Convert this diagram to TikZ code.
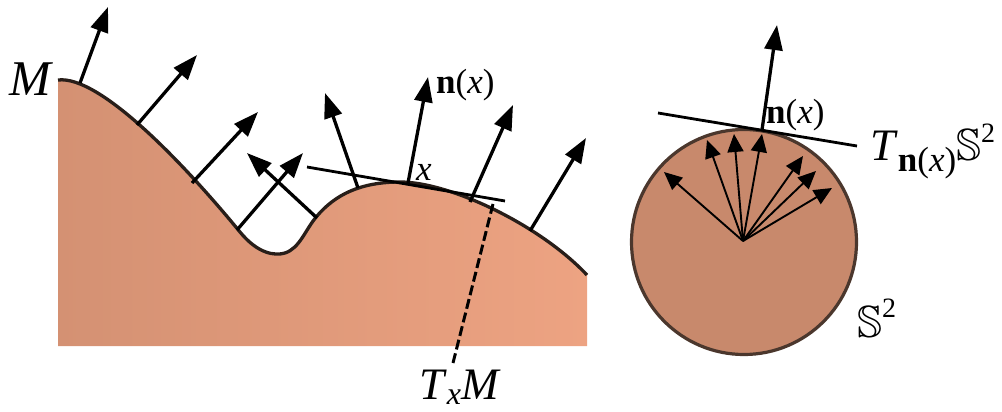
\documentclass[tikz,border=0pt]{standalone}
\usepackage{fontspec}
\setmainfont{Liberation Serif}
\usepackage{amssymb}
\usetikzlibrary{arrows.meta}
\definecolor{landL}{RGB}{212,145,115}
\definecolor{landR}{RGB}{237,163,130}
\definecolor{edgecol}{RGB}{40,30,25}
\definecolor{ball}{RGB}{200,137,108}
\definecolor{ballEdge}{RGB}{75,55,45}
\begin{document}
\begin{tikzpicture}[x=1pt,y=-1pt,
  normalarrow/.style={line width=3.3pt,-{Triangle[length=25pt,width=18pt]}},
  smallarrow/.style={line width=1.9pt,-{Triangle[length=18pt,width=16pt]}},
  lbl/.style={inner sep=0pt},
  big/.style={font=\fontsize{45}{45}\selectfont},
  mid/.style={font=\fontsize{35}{35}\selectfont},
]
\useasboundingbox (0,0) rectangle (1002,412);
% land
\shade[left color=landL,right color=landR]
  (58,80) .. controls (100,75) and (185,165) .. (240,232)
  .. controls (258,254) and (275,256) .. (285,253)
  .. controls (300,248) and (305,230) .. (317,216)
  .. controls (335,195) and (360,182) .. (400,182)
  .. controls (450,182) and (540,225) .. (587,275)
  -- (587,346) -- (58,346) -- cycle;
\draw[edgecol, line width=3.3pt]
  (58,80) .. controls (100,75) and (185,165) .. (240,232)
  .. controls (258,254) and (275,256) .. (285,253)
  .. controls (300,248) and (305,230) .. (317,216)
  .. controls (335,195) and (360,182) .. (400,182)
  .. controls (450,182) and (540,225) .. (587,275);
% base points and tips
\coordinate (b1) at (80,83);   \coordinate (t1) at (108,7);
\coordinate (b2) at (137,125); \coordinate (t2) at (197,55);
\coordinate (b3) at (192,183); \coordinate (t3) at (258,112);
\coordinate (b4) at (237,230); \coordinate (t4) at (303,153);
\coordinate (b5) at (317,218); \coordinate (t5) at (247,153);
\coordinate (b6) at (358,188); \coordinate (t6) at (325,93);
\coordinate (bx) at (408,183); \coordinate (tx) at (428,77);
\coordinate (b8) at (470,202); \coordinate (t8) at (513,105);
\coordinate (b9) at (530,231); \coordinate (t9) at (586,138);
\foreach \i in {1,2,3,4,5,6,x,8,9} \draw[normalarrow] (b\i) -- (t\i);
% tangent plane at x
\coordinate (tl1) at (307,167); \coordinate (tl2) at (505,201);
\draw[line width=2.8pt] (tl1) -- (tl2);
\coordinate (d1) at (493,204); \coordinate (d2) at (453,363);
\draw[line width=3pt, dash pattern=on 10pt off 4pt] (d1) -- (d2);
% labels left
\node[lbl, font=\fontsize{50}{50}\selectfont, anchor=center] (M) at (31,79) {\textit{M}};
\node[lbl, mid, anchor=base west] (nx) at (436,93) {\textbf{n}(\textit{x})};
\node[lbl, mid, anchor=base west] (xl) at (416,180) {\textit{x}};
\node[lbl, big, anchor=base west] (TxM) at (419,399)
  {\textit{T}\raisebox{-5pt}{\fontsize{32}{32}\selectfont\textit{x}}\textit{M}};
% sphere
\node[circle, draw=ballEdge, fill=ball, line width=3.2pt, minimum size=225pt, inner sep=0pt] (S) at (744,242) {};
\coordinate (c) at (743,241);
\coordinate (s1) at (664,172);
\coordinate (s2) at (707,140);
\coordinate (s3) at (734,134);
\coordinate (s4) at (762,134);
\coordinate (s5) at (803,156);
\coordinate (s6) at (816,171);
\coordinate (s7) at (832,188);
\foreach \i in {1,...,7} \draw[smallarrow] (c) -- (s\i);
\coordinate (sl1) at (658,113); \coordinate (sl2) at (857,146);
\draw[line width=2.8pt] (sl1) -- (sl2);
\coordinate (nb) at (762,130); \coordinate (nt) at (777,25);
\draw[normalarrow] (nb) -- (nt);
\node[lbl, mid, anchor=base west] (nx2) at (766,124) {\textbf{n}(\textit{x})};
\node[lbl, big, anchor=base west] (TS) at (870,160)
  {\textit{T}\raisebox{-11pt}{\fontsize{35}{35}\selectfont\textbf{n}(\textit{x})}$\mathbb{S}$\raisebox{18pt}{\fontsize{28}{28}\selectfont 2}};
\node[lbl, big, anchor=base west] (S2) at (857,337)
  {$\mathbb{S}$\raisebox{20pt}{\fontsize{28}{28}\selectfont 2}};
\end{tikzpicture}
\end{document}
